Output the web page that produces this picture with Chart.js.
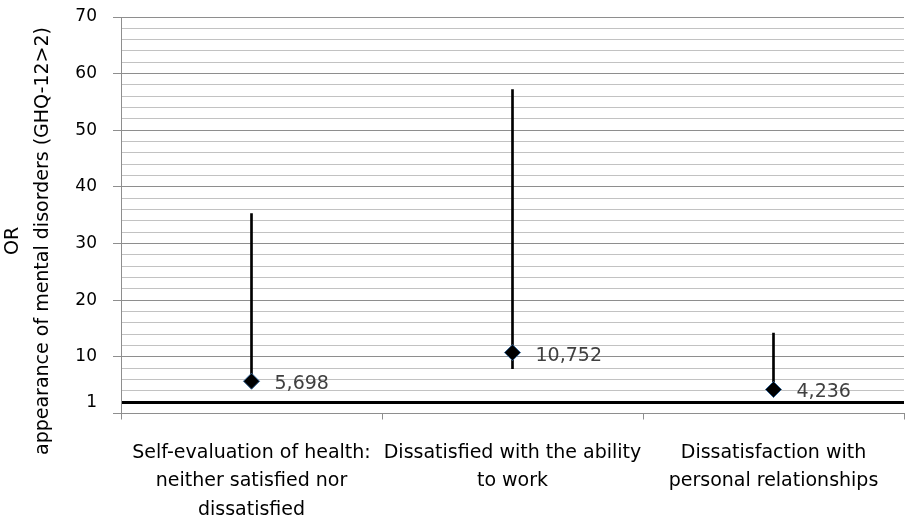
<!DOCTYPE html>
<html>
<head>
<meta charset="utf-8">
<script src="https://cdn.jsdelivr.net/npm/chart.js@4"></script>
<style>
  html, body { margin:0; padding:0; background:#fff; }
  #wrap { width:906px; height:518px; }
</style>
</head>
<body>
<div id="wrap"><canvas id="graph-or"></canvas></div>
<script>
/* ---- données ---- */
const categories = [
  ['Self-evaluation of health:', 'neither satisfied nor', 'dissatisfied'],
  ['Dissatisfied with the ability', 'to work'],
  ['Dissatisfaction with', 'personal relationships'],
];
const orValues = [5.698, 10.752, 4.236];
const orLabels = ['5,698', '10,752', '4,236'];
const ciLow  = [5.0, 7.9, 3.5];
const ciHigh = [35.3, 57.2, 14.2];
const yMajorTicks = [10, 20, 30, 40, 50, 60, 70];
const refLine = 2;      /* trait épais « 1 » */
const refLabel = '1';
const yTitle = ['OR', 'appearance of mental disorders (GHQ-12>2)'];

const FONT = 'DejaVu Sans';
const GRIS_MAJ = '#8e8e8e', GRIS_MIN = '#c2c2c2';

/* étiquettes de valeur à droite des losanges */
const etiquettes = {
  id: 'etiquettes',
  afterDatasetsDraw(chart){
    const meta = chart.getDatasetMeta(1);
    const ctx = chart.ctx;
    ctx.save();
    ctx.font = `19px "${FONT}"`;
    ctx.fillStyle = '#404040';
    ctx.textBaseline = 'middle';
    meta.data.forEach((pt, i) => ctx.fillText(orLabels[i], pt.x + 23, pt.y + 3));
    ctx.restore();
  }
};

/* titre de l'axe Y (deux lignes, centré sur la hauteur de la figure comme l'original) */
const titreY = {
  id: 'titreY',
  afterDraw(chart){
    const ctx = chart.ctx;
    ctx.save();
    ctx.translate(0, 241);
    ctx.rotate(-Math.PI / 2);
    ctx.font = `19px "${FONT}"`;
    ctx.fillStyle = '#000';
    ctx.textAlign = 'center';
    ctx.textBaseline = 'alphabetic';
    yTitle.forEach((l, i) => ctx.fillText(l, 0, 17.5 + i * 30));
    ctx.restore();
  }
};

const estMajeur = v => v === 0 || yMajorTicks.includes(v);

new Chart(document.getElementById('graph-or'), {
  data: {
    labels: categories,
    datasets: [
      { type:'bar', data: ciLow.map((l, i) => [l, ciHigh[i]]), backgroundColor:'#000', barThickness:2, order:2 },
      { type:'line', data: orValues, showLine:false, pointStyle:'rectRot', pointRadius:8, pointHoverRadius:8,
        pointBackgroundColor:'#000', pointBorderColor:'#2f5f8f', pointBorderWidth:1, order:1 },
    ]
  },
  options: {
    responsive:true, maintainAspectRatio:false, animation:false,
    layout: { autoPadding:false, padding: { top:17, right:2, left:0, bottom:0 } },
    plugins: { legend:{ display:false }, tooltip:{ enabled:false } },
    scales: {
      x: {
        type:'category', offset:true,
        grid: { drawOnChartArea:false, offset:true, color:GRIS_MAJ, tickLength:6 },
        border: { color:GRIS_MAJ },
        ticks: { color:'#000', font:{ family:FONT, size:19, lineHeight:1.5 }, padding:19, maxRotation:0, autoSkip:false },
        afterFit(scale){ scale.height = 104.5; scale.paddingLeft = 0; scale.paddingRight = 0; }
      },
      y: {
        min:0, max:70,
        ticks: {
          stepSize:2, autoSkip:false, color:'#000', padding:16,
          font:{ family:FONT, size:17 },
          callback: v => v === refLine ? refLabel : (yMajorTicks.includes(v) ? String(v) : '')
        },
        grid: {
          tickLength:8,
          color: c => c.tick && c.tick.value === refLine ? '#000' : (c.tick && estMajeur(c.tick.value) ? GRIS_MAJ : GRIS_MIN),
          lineWidth: c => c.tick && c.tick.value === refLine ? 3 : 1,
          tickColor: c => c.tick && estMajeur(c.tick.value) ? GRIS_MAJ : 'transparent',
        },
        border: { color:GRIS_MAJ },
        afterFit(scale){ scale.width = 121; scale.paddingTop = 0; scale.paddingBottom = 0; }
      }
    }
  },
  plugins: [etiquettes, titreY]
});
</script>
</body>
</html>
